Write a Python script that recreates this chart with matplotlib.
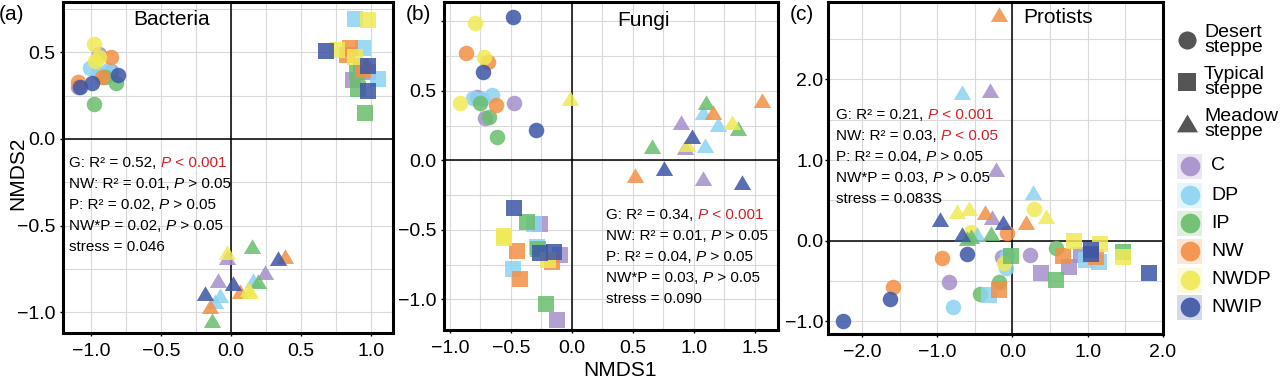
import matplotlib
matplotlib.use('Agg')
import matplotlib.pyplot as plt
from matplotlib.patches import Rectangle
from matplotlib.ticker import MultipleLocator, FuncFormatter

plt.rcParams['font.family'] = ['Liberation Sans', 'DejaVu Sans']

# ── groups ─────────────────────────────────────────────────────────────
treatments = ['C', 'DP', 'IP', 'NW', 'NWDP', 'NWIP']
trt_colors = ['#a58fcb', '#8dd3f2', '#69bd6d', '#f38f45', '#f0ea55', '#3d56a6']
steppes = ['Desert\nsteppe', 'Typical\nsteppe', 'Meadow\nsteppe']
# 54 samples per panel: 18 per steppe, 3 per treatment within a steppe
pt_steppe = [s for s in range(3) for _ in range(18)]
pt_trt = [t for t in range(6) for _ in range(3)] * 3

# ── (a) Bacteria ───────────────────────────────────────────────────────
bac_x = [-0.94, -0.86, -1.09,  -1.01, -0.95, -0.88,  -0.98, -0.82, -0.90,
         -0.86, -0.92, -1.09,  -0.98, -0.97, -0.94,  -0.99, -0.81, -1.08,
         0.98, 0.87, 0.93,  0.886, 0.945, 1.05,  0.898, 0.91, 0.957,
         0.85, 0.83, 0.945,  0.98, 0.755, 0.886,  0.68, 0.98, 0.98,
         -0.03, -0.09, 0.243,  0.16, -0.079, -0.114,  0.148, 0.195, -0.138,
         0.386, 0.064, -0.15,  -0.03, 0.12, 0.136,  0.338, 0.017, -0.186]
bac_y = [0.49, 0.39, 0.30,  0.41, 0.38, 0.40,  0.20, 0.32, 0.36,
         0.47, 0.355, 0.33,  0.55, 0.45, 0.47,  0.32, 0.37, 0.30,
         0.385, 0.34, 0.42,  0.69, 0.523, 0.347,  0.379, 0.29, 0.149,
         0.523, 0.485, 0.399,  0.686, 0.514, 0.475,  0.51, 0.418, 0.278,
         -0.69, -0.818, -0.776,  -0.818, -0.904, -0.94,  -0.626, -0.828, -1.048,
         -0.684, -0.885, -0.97,  -0.66, -0.87, -0.885,  -0.693, -0.837, -0.894]

# ── (b) Fungi ──────────────────────────────────────────────────────────
fun_x = [-0.776, -0.475, -0.713,  -0.658, -0.81, -0.74,  -0.75, -0.678, -0.612,
         -0.869, -0.686, -0.623,  -0.795, -0.72, -0.92,  -0.48, -0.727, -0.298,
         -0.262, -0.098, -0.125,  -0.311, -0.29, -0.48,  -0.371, -0.28, -0.213,
         -0.453, -0.166, -0.426,  -0.557, -0.2, -0.56,  -0.475, -0.262, -0.148,
         0.89, 0.926, 1.076,  1.076, 1.2, 1.09,  1.10, 1.36, 0.653,
         1.56, 1.158, 0.516,  -0.016, 1.31, 0.94,  0.98, 0.754, 1.396]
fun_y = [0.453, 0.414, 0.302,  0.47, 0.446, 0.44,  0.414, 0.309, 0.17,
         0.77, 0.71, 0.398,  0.985, 0.745, 0.41,  1.03, 0.637, 0.218,
         -0.458, -0.681, -1.149,  -0.458, -0.62, -0.784,  -0.442, -0.64, -1.034,
         -0.65, -0.729, -0.856,  -0.545, -0.72, -0.56,  -0.345, -0.669, -0.662,
         0.27, 0.086, -0.137,  0.338, 0.254, 0.105,  0.414, 0.223, 0.098,
         0.43, 0.338, -0.113,  0.439, 0.266, 0.11,  0.17, -0.065, -0.161]

# ── (c) Protists ───────────────────────────────────────────────────────
pro_x = [-0.133, 0.235, -0.845,  -0.067, -0.089, -0.787,  0.577, -0.178, -0.432,
         -0.067, -0.933, -1.587,  0.288, -0.556, -0.111,  -0.609, -1.632, -2.245,
         0.377, 0.755, 0.91,  -0.31, 0.977, 1.155,  -0.022, 0.577, 1.467,
         -0.178, 0.667, 1.11,  0.82, 1.168, 1.467,  1.044, 1.808, 1.05,
         -0.30, -0.223, -0.267,  -0.667, 0.267, -0.467,  -0.29, -0.6, -0.55,
         -0.18, -0.37, 0.177,  -0.733, -0.578, 0.444,  -0.965, -0.12, -0.667]
pro_y = [-0.206, -0.177, -0.508,  -0.177, -0.342, -0.825,  -0.094, -0.508, -0.664,
         0.092, -0.218, -0.57,  0.389, 0.112, -0.28,  -0.165, -0.726, -0.99,
         -0.404, -0.322, -0.177,  -0.673, -0.239, -0.26,  -0.19, -0.487, -0.136,
         -0.611, -0.19, -0.198,  0.0, -0.041, -0.198,  -0.115, -0.404, -0.16,
         1.859, 0.876, 0.278,  1.834, 0.587, 0.07,  0.083, 0.017, 0.05,
         2.797, 0.347, 0.223,  0.36, 0.389, 0.29,  0.257, 0.223, 0.07]

# ── PERMANOVA / stress annotations ─────────────────────────────────────
stat_terms = ['G', 'NW', 'P', 'NW*P']
bac_r2, bac_p, bac_stress = [0.52, 0.01, 0.02, 0.02], ['< 0.001', '> 0.05', '> 0.05', '> 0.05'], '0.046'
fun_r2, fun_p, fun_stress = [0.34, 0.01, 0.04, 0.03], ['< 0.001', '> 0.05', '> 0.05', '> 0.05'], '0.090'
pro_r2, pro_p, pro_stress = [0.21, 0.03, 0.04, 0.03], ['< 0.001', '< 0.05', '> 0.05', '> 0.05'], '0.083S'

RED = '#d42027'
TRI = [(-1, -0.75), (1, -0.75), (0, 0.95)]
markers = ['o', 's', TRI]
msizes = [125, 118, 155]


def make_fmt(hidden=()):
    def fmt(v, _):
        s = f'{v:.1f}'
        if s == '-0.0':
            s = '0.0'
        if s in hidden:
            return ''
        return s.replace('-', '\u2212')
    return FuncFormatter(fmt)


def stat_block(ax, x0, y0, dy, r2, pvals, stress):
    lines = []
    for term, r, p in zip(stat_terms, r2, pvals):
        col = RED if p.startswith('<') else 'black'
        head = f'{term} = {r:.2f}, ' if term == 'NW*P' else f'{term}: R\u00b2 = {r:.2f}, '
        lines.append([(head, 'black', 'normal'), ('P', col, 'italic'), (' ' + p, col, 'normal')])
    lines.append([(f'stress = {stress}', 'black', 'normal')])
    for i, pieces in enumerate(lines):
        prev = None
        for txt, col, style in pieces:
            if prev is None:
                prev = ax.text(x0, y0 - i * dy, txt, transform=ax.transAxes, color=col,
                               fontstyle=style, fontsize=11, ha='left', va='center', zorder=6)
            else:
                prev = ax.annotate(txt, xy=(1, 0), xycoords=prev, color=col, fontstyle=style,
                                   fontsize=11, ha='left', va='bottom', zorder=6)


def panel(rect, xs, ys, xlim, ylim, major, minor, title, tpos, spos, r2, pvals, stress,
          lbl_pad, hide_y=()):
    ax = fig.add_axes(rect)
    ax.set_axisbelow(True)
    for s in range(3):
        for t in range(6):
            idx = [i for i in range(len(xs)) if pt_steppe[i] == s and pt_trt[i] == t]
            ax.scatter([xs[i] for i in idx], [ys[i] for i in idx], marker=markers[s],
                       s=msizes[s], color=trt_colors[t], alpha=0.85, linewidths=0, zorder=3)
    ax.axhline(0, color='black', lw=1.1, zorder=2)
    ax.axvline(0, color='black', lw=1.1, zorder=2)
    ax.set_xlim(*xlim)
    ax.set_ylim(*ylim)
    for a in (ax.xaxis, ax.yaxis):
        a.set_major_locator(MultipleLocator(major))
        a.set_minor_locator(MultipleLocator(minor))
    ax.xaxis.set_major_formatter(make_fmt())
    ax.yaxis.set_major_formatter(make_fmt(hide_y))
    ax.grid(which='both', color='#d9d9d9', lw=0.8)
    ax.tick_params(which='major', length=2.5, width=1, labelsize=14)
    ax.tick_params(axis='y', pad=lbl_pad)
    ax.tick_params(axis='x', pad=5)
    ax.tick_params(which='minor', length=0)
    for sp in ax.spines.values():
        sp.set_linewidth(2.2)
    ax.text(tpos[0], tpos[1], title, transform=ax.transAxes, fontsize=15,
            ha='center', va='center', zorder=6)
    stat_block(ax, spos[0], spos[1], spos[2], r2, pvals, stress)
    return ax


W, H = 1280, 382
fig = plt.figure(figsize=(W / 100, H / 100), dpi=100)

panel([63 / W, 1 - 333 / H, 330 / W, 331 / H], bac_x, bac_y, (-1.2, 1.157), (-1.12, 0.79),
      0.5, 0.25, 'Bacteria', (0.33, 0.946), (0.018, 0.514, 0.0634),
      bac_r2, bac_p, bac_stress, 3)
panel([444 / W, 1 - 330 / H, 334 / W, 328 / H], fun_x, fun_y, (-1.049, 1.689), (-1.22, 1.139),
      0.5, 0.25, 'Fungi', (0.596, 0.945), (0.485, 0.351, 0.064),
      fun_r2, fun_p, fun_stress, 3, hide_y=('1.0',))
panel([828 / W, 1 - 334 / H, 335 / W, 332 / H], pro_x, pro_y, (-2.45, 2.0), (-1.156, 2.96),
      1.0, 0.5, 'Protists', (0.687, 0.952), (0.024, 0.66, 0.0633),
      pro_r2, pro_p, pro_stress, 1)

# panel letters and shared axis titles
for x, s in [(12, '(a)'), (418, '(b)'), (802, '(c)')]:
    fig.text(x / W, 1 - 14 / H, s, fontsize=15, ha='center', va='center')
fig.text(18 / W, 1 - 173 / H, 'NMDS2', rotation=90, fontsize=15, ha='center', va='center')
fig.text(620 / W, 1 - 371 / H, 'NMDS1', fontsize=15, ha='center', va='center')

# ── legend (drawn in figure pixel units) ───────────────────────────────
lax = fig.add_axes([0, 0, 1, 1], facecolor='none')
lax.set_xlim(0, W)
lax.set_ylim(H, 0)
lax.axis('off')
shape_y = [40, 82, 124]
for m, y, lab, sz in zip(markers, shape_y, steppes, [170, 150, 230]):
    lax.scatter([1187], [y], marker=m, s=sz, color='#555555', linewidths=0)
    lax.text(1204, y, lab, fontsize=14, ha='left', va='center', linespacing=0.85)
col_y = [166, 195, 223, 251, 280, 307]
for t, (lab, c, y) in enumerate(zip(treatments, trt_colors, col_y)):
    lax.add_patch(Rectangle((1177, y - 12.5), 25, 25, facecolor=c, alpha=0.22, lw=0))
    lax.scatter([1189.5], [y], marker='o', s=200, color=c, alpha=0.9, linewidths=0)
    lax.text(1211, y, lab, fontsize=14, ha='left', va='center')

fig.savefig('out.png', dpi=100)
